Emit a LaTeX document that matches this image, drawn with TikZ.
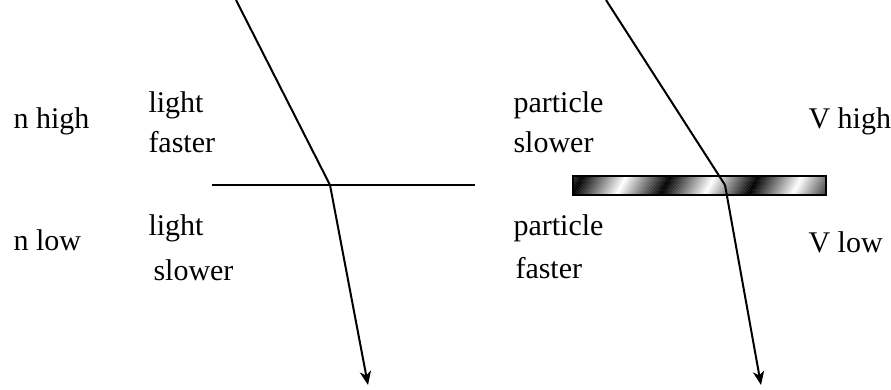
\documentclass[tikz,border=0pt]{standalone}
\usepackage{fontspec}
\setmainfont{Liberation Serif}
\usepackage{tikz}
\usetikzlibrary{arrows.meta}

\begin{document}
\begin{tikzpicture}[x=0.4pt,y=-0.4pt,
  lbl/.style={anchor=base west,inner sep=0pt,font=\fontsize{12}{14}\selectfont},
  ray/.style={line width=0.8pt},
  tip/.style={-{Stealth[length=5.5pt,width=4.5pt,inset=1.6pt]}}]
\useasboundingbox (0,0) rectangle (891,389);

% left: light
\coordinate (Ltop) at (236,0);
\coordinate (Lhit) at (330,185);
\coordinate (Lend) at (368,385);
\coordinate (Lw) at (212,185);
\coordinate (Le) at (475,185);

\draw[ray] (Lw)--(Le);
\draw[ray] (Ltop)--(Lhit);
\draw[ray,tip] (Lhit)--(Lend);

\node[lbl] (nhigh) at (13,128) {n high};
\node[lbl] (lfast) at (148,112) {light};
\node[lbl] (lfastb) at (148,152) {faster};
\node[lbl] (nlow) at (13,250) {n low};
\node[lbl] (lslow) at (148,235) {light};
\node[lbl] (lslowb) at (153,280) {slower};

% right: particle
\begin{scope}
\clip (573,176) rectangle (826,195);
\foreach \x in {550,551.5,...,840}{
  \pgfmathsetmacro\t{mod(\x-572+880,88)/88}
  \pgfmathsetmacro\p{100*abs(2*\t-1)}
  \fill[black!\p!white] (\x,195)--(\x+1.7,195)--(\x+11.7,176)--(\x+10,176)--cycle;
}
\end{scope}
\draw[line width=0.9pt] (573,176) rectangle (826,195);

\coordinate (Rtop) at (606,0);
\coordinate (Rhit) at (725,185);
\coordinate (Rend) at (761,385);

\draw[ray] (Rtop)--(Rhit);
\draw[ray,tip] (Rhit)--(Rend);

\node[lbl] (pslow) at (513,112) {particle};
\node[lbl] (pslowb) at (513,152) {slower};
\node[lbl] (vhigh) at (808,128) {V high};
\node[lbl] (pfast) at (513,235) {particle};
\node[lbl] (pfastb) at (515,278) {faster};
\node[lbl] (vlow) at (808,252) {V low};

\end{tikzpicture}
\end{document}
